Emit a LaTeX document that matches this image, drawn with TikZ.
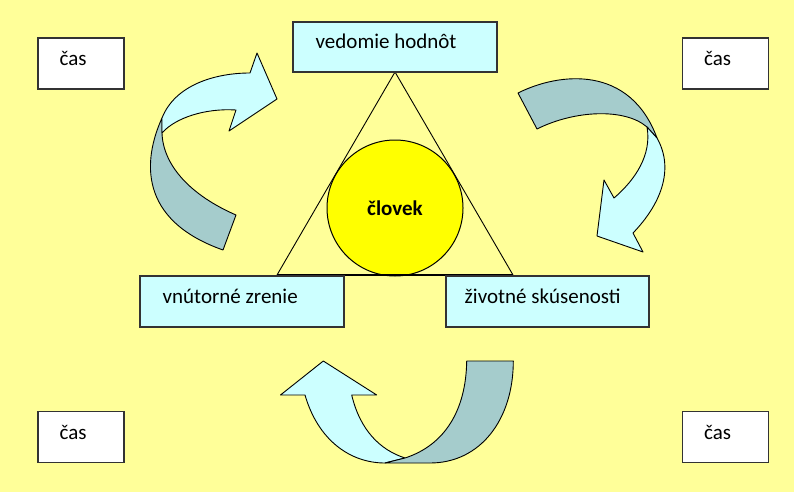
\documentclass[tikz,border=0pt]{standalone}
\usepackage{fontspec}
\setmainfont{Carlito}
\usetikzlibrary{calc}
\definecolor{bgyel}{HTML}{FFFF99}
\definecolor{lcyan}{HTML}{CCFFFF}
\definecolor{dteal}{HTML}{A5CCCC}
\definecolor{sunyel}{HTML}{FFFF00}
\definecolor{bord}{HTML}{333333}
\begin{document}
\begin{tikzpicture}[x=1pt,y=-1pt,
  casbox/.style={draw=bord, line width=1.1pt, fill=white, minimum width=86pt, minimum height=51pt, inner sep=0pt},
  labbox/.style={draw=bord, line width=1.1pt, fill=lcyan, minimum width=204pt, minimum height=51pt, inner sep=0pt},
  lbl/.style={anchor=base west, inner sep=0pt, font=\fontsize{21}{24}\selectfont},
  frontpart/.style={draw=black, line width=0.9pt, fill=lcyan, line join=round},
  backpart/.style={draw=black, line width=0.9pt, fill=dteal, line join=round}]
\fill[bgyel] (0,0) rectangle (794,492);
\useasboundingbox (0,0) rectangle (794,492);

% corner boxes
\node[casbox] (c1) at (81,63.5) {};
\node[casbox] (c2) at (725.5,63.5) {};
\node[casbox] (c3) at (81,437) {};
\node[casbox] (c4) at (725.5,437) {};
\node[lbl] (t1) at ($(c1.north west)+(22,28.5)$) {čas};
\node[lbl] (t2) at ($(c2.north west)+(22,28.5)$) {čas};
\node[lbl] (t3) at ($(c3.north west)+(22,28.5)$) {čas};
\node[lbl] (t4) at ($(c4.north west)+(22,28.5)$) {čas};

% circle and triangle
\node[circle, draw=black, line width=1pt, fill=sunyel, minimum size=136pt, inner sep=0pt,
      font=\fontsize{21}{24}\selectfont\bfseries] (man) at (395,208) {človek};
\coordinate (apex) at (395,72);
\coordinate (bl) at (277,275);
\coordinate (br) at (513,275);
\draw[line width=0.9pt] (bl) -- (apex) -- (br);
\draw[line width=2pt] (bl) -- (br);

% main boxes
\node[labbox, minimum height=50pt] (vh) at (395,47) {};
\node[labbox] (vz) at (242,301.5) {};
\node[labbox, minimum width=203pt] (zs) at (547.5,301.5) {};
\node[lbl] (tvh) at ($(vh.north west)+(23,27.3)$) {vedomie hodnôt};
\node[lbl] (tvz) at ($(vz.north west)+(23,28)$) {vnútorné zrenie};
\node[lbl] (tzs) at ($(zs.north west)+(19,28)$) {životné skúsenosti};

% top-left curved arrow
\draw[backpart] (162,118) .. controls (143,160) and (138,220) .. (223,250)
  -- (236,215) .. controls (190,195) and (163,165) .. (162,133) -- cycle;
\draw[frontpart] (162,118) .. controls (175,85) and (215,73) .. (250,73)
  -- (257,53) -- (277,99) -- (229,131) -- (236,110)
  .. controls (205,108) and (175,118) .. (162,133) -- cycle;

% top-right curved arrow
\draw[backpart] (518,93) .. controls (560,72) and (630,65) .. (657,138)
  -- (647,127) .. controls (625,108) and (575,110) .. (537,129) -- cycle;
\draw[frontpart] (647,127) .. controls (652,155) and (635,180) .. (614,198)
  -- (604,180) -- (597,236) -- (643,252) -- (633,233)
  .. controls (660,205) and (675,170) .. (657,138) -- cycle;

% bottom curved arrow
\draw[frontpart] (305,395) -- (280.5,395) -- (323.3,361) -- (376.7,395) -- (351.7,395)
  .. controls (360,430) and (380,450) .. (405,458)
  -- (385,463) .. controls (350,463) and (318,440) .. (305,395) -- cycle;
\draw[backpart] (466.7,361) .. controls (466,410) and (445,445) .. (405,458)
  -- (385,463) -- (430,463) .. controls (480,463) and (513.3,420) .. (513.3,361) -- cycle;
\end{tikzpicture}
\end{document}
